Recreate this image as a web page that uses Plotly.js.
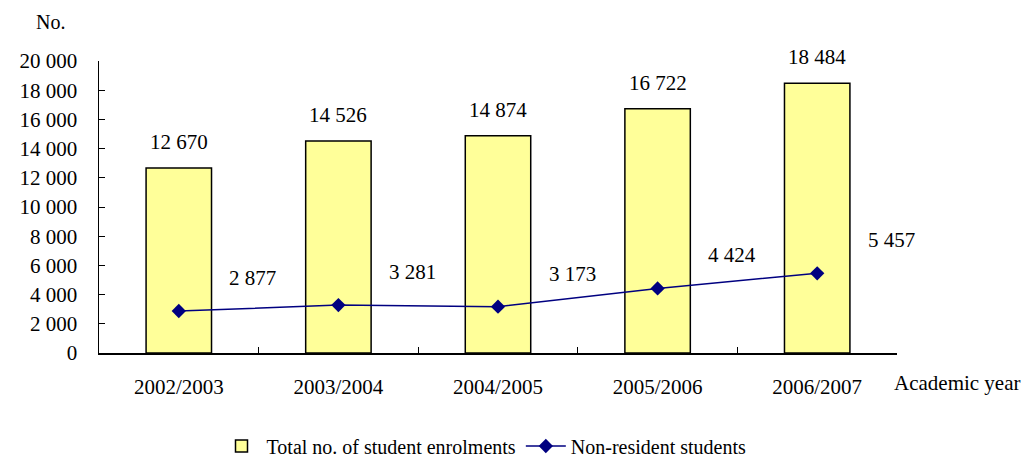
<!DOCTYPE html>
<html>
<head>
<meta charset="utf-8">
<script src="https://cdn.plot.ly/plotly-3.0.1.min.js"></script>
<style>
  body { margin: 0; background: #fff; }
  #chart { width: 1029px; height: 460px; }
</style>
</head>
<body>
<div id="chart"></div>
<script>
// data
const YEARS = ["2002/2003", "2003/2004", "2004/2005", "2005/2006", "2006/2007"];
const TOTAL_ENROLMENTS = [12670, 14526, 14874, 16722, 18484];
const NON_RESIDENT = [2877, 3281, 3173, 4424, 5457];
const Y_TICKS = [0, 2000, 4000, 6000, 8000, 10000, 12000, 14000, 16000, 18000, 20000];

const FONT = "Liberation Serif";
const fmt = (v) => v.toString().replace(/\B(?=(\d{3})+(?!\d))/g, " ");

// plot box in pixels, used to place the two axis captions
const PL = 99, PR = 897, PT = 61, PB = 353;
const px = (x) => (x - PL) / (PR - PL);
const py = (y) => (PB - y) / (PB - PT);

const traces = [
  {
    x: YEARS,
    y: TOTAL_ENROLMENTS,
    type: "bar",
    name: "Total no. of student enrolments",
    width: 0.41,
    marker: { color: "#FFFF99", line: { color: "#000", width: 1.5 } },
    hoverinfo: "skip",
  },
  {
    x: YEARS,
    y: NON_RESIDENT,
    type: "scatter",
    mode: "lines+markers",
    name: "Non-resident students",
    line: { color: "#000080", width: 1.5 },
    marker: { symbol: "diamond", size: 11, color: "#000080" },
    hoverinfo: "skip",
  },
];

// value labels
const annotations = [];
YEARS.forEach((yr, i) => {
  annotations.push({
    x: yr, y: TOTAL_ENROLMENTS[i], text: fmt(TOTAL_ENROLMENTS[i]),
    showarrow: false, yanchor: "middle", yshift: 26,
    font: { family: FONT, size: 21, color: "#000" },
  });
  annotations.push({
    x: yr, y: NON_RESIDENT[i], text: fmt(NON_RESIDENT[i]),
    showarrow: false, yanchor: "middle", xshift: 74, yshift: 33,
    font: { family: FONT, size: 21, color: "#000" },
  });
});
annotations.push({
  xref: "paper", yref: "paper", x: px(50), y: py(22),
  text: "No.", showarrow: false, xanchor: "center", yanchor: "middle",
  font: { family: FONT, size: 20, color: "#000" },
});
annotations.push({
  xref: "paper", yref: "paper", x: px(892), y: py(383),
  text: "Academic year", showarrow: false, xanchor: "left", yanchor: "middle",
  font: { family: FONT, size: 21, color: "#000" },
});

const layout = {
  width: 1029,
  height: 460,
  margin: { l: PL, r: 1029 - PR, t: PT, b: 460 - PB },
  paper_bgcolor: "#fff",
  plot_bgcolor: "#fff",
  font: { family: FONT, size: 21, color: "#000" },
  showlegend: true,
  legend: {
    orientation: "h",
    xref: "container", yref: "container",
    x: 484 / 1029, y: 14 / 460, xanchor: "center", yanchor: "middle",
    font: { family: FONT, size: 20 },
    traceorder: "normal",
    itemwidth: 40,
  },
  xaxis: {
    type: "category",
    range: [-0.5, 4.5],
    showline: true, linecolor: "#000", linewidth: 1.5,
    showgrid: false, zeroline: false,
    ticks: "inside", ticklen: 6, tickcolor: "#000",
    tickson: "boundaries",
    ticklabelstandoff: 14,
    tickfont: { family: FONT, size: 21 },
  },
  yaxis: {
    range: [0, 20000],
    tickvals: Y_TICKS,
    ticktext: Y_TICKS.map(fmt),
    showline: true, linecolor: "#000", linewidth: 1.5,
    showgrid: false, zeroline: false,
    ticks: "inside", ticklen: 6, tickcolor: "#000",
    ticklabelstandoff: 16,
    tickfont: { family: FONT, size: 21 },
  },
  annotations: annotations,
};

Plotly.newPlot("chart", traces, layout, { displayModeBar: false, staticPlot: true });
</script>
</body>
</html>
